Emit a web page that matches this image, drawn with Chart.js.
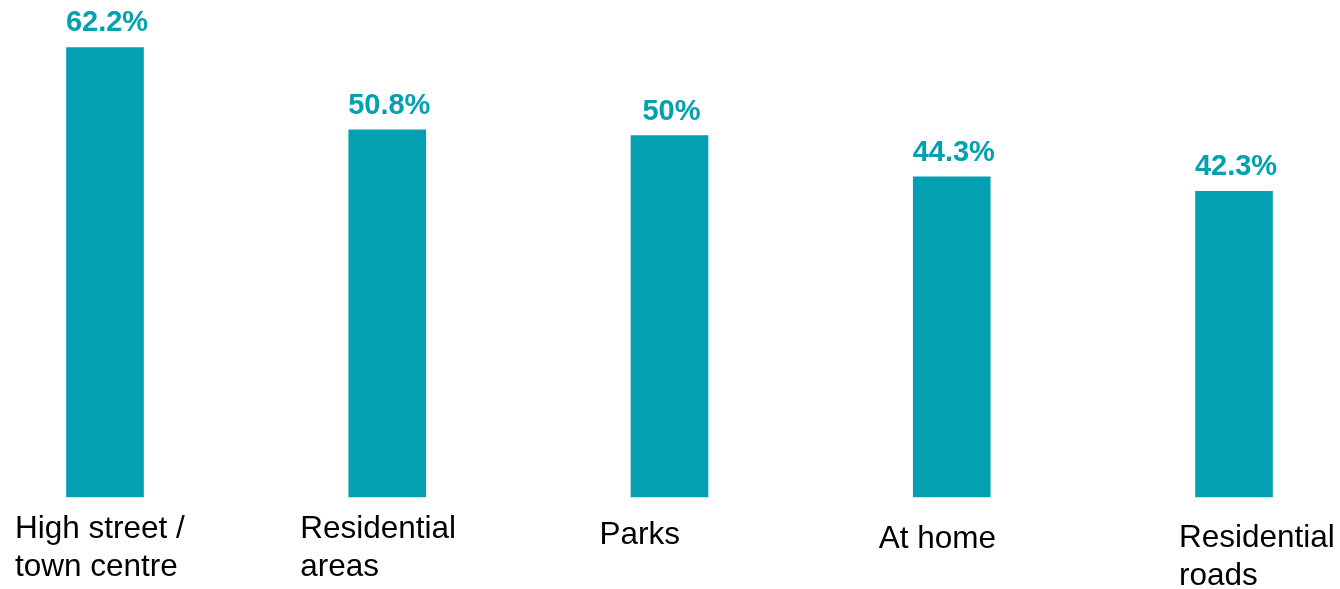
<!DOCTYPE html>
<html>
<head>
<meta charset="utf-8">
<script src="https://cdn.jsdelivr.net/npm/chart.js@4"></script>
<style>
  html, body { margin: 0; padding: 0; background: #fff; }
  #wrap { width: 1340px; height: 589px; position: relative; }
</style>
</head>
<body>
<div id="wrap"><canvas id="myChart"></canvas></div>
<script>
// Chart data
const categories = [
    ['High street /', 'town centre'],
    ['Residential', 'areas'],
    ['Parks'],
    ['At home'],
    ['Residential', 'roads'],
];
const shares = [62.2, 50.8, 50, 44.3, 42.3];

// Where each category label sits, relative to its bar centre / the baseline
const labelDx = [-90, -87, -70, -73, -55];
const labelDy = [41, 41, 47, 51, 50];

const teal = '#03a0b2';

// Draws the % values above bars and the category names below them
const labelPlugin = {
    id: 'barLabels',
    afterDatasetsDraw(chart) {
        const ctx = chart.ctx;
        const meta = chart.getDatasetMeta(0);
        const base = chart.scales.y.getPixelForValue(0);
        ctx.save();
        meta.data.forEach((bar, i) => {
            // value label
            ctx.font = 'bold 29px "Liberation Sans", Arial, sans-serif';
            ctx.fillStyle = teal;
            ctx.textAlign = 'center';
            ctx.textBaseline = 'alphabetic';
            ctx.fillText(shares[i] + '%', bar.x + 2, bar.y - 16);

            // category label
            ctx.font = '31.5px "Liberation Sans", Arial, sans-serif';
            ctx.fillStyle = '#000';
            ctx.textAlign = 'left';
            categories[i].forEach((line, j) => {
                ctx.fillText(line, bar.x + labelDx[i], base + labelDy[i] + j * 38);
            });
        });
        ctx.restore();
    }
};

const ctx = document.getElementById('myChart').getContext('2d');
const myChart = new Chart(ctx, {
    type: 'bar',
    data: {
        labels: categories.map(c => c.join(' ')),
        datasets: [{
            data: shares,
            backgroundColor: teal,
            borderWidth: 0,
            barThickness: 77,
            clip: false,
        }]
    },
    options: {
        responsive: true,
        maintainAspectRatio: false,
        animation: false,
        layout: {
            padding: { left: 105, right: 106, top: 20, bottom: 92 }
        },
        plugins: {
            legend: { display: false },
            tooltip: { enabled: false },
        },
        scales: {
            x: {
                display: false,
                offset: false,
            },
            y: {
                display: false,
                min: 0,
                max: 66,
            },
        },
    },
    plugins: [labelPlugin]
});
</script>
</body>
</html>
